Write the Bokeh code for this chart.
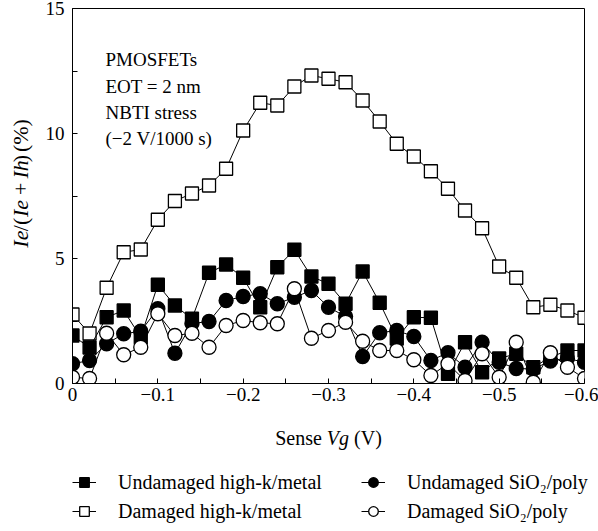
import math
from bokeh.plotting import figure
from bokeh.layouts import column, row
from bokeh.models import (Range1d, FixedTicker, CustomJSTickFormatter, Label,
                          Legend, LegendItem)
from bokeh.embed import file_html
from bokeh.resources import INLINE

# ---------------- data ----------------
vg = [0.0, -0.02, -0.04, -0.06, -0.08, -0.10, -0.12, -0.14, -0.16, -0.18,
      -0.20, -0.22, -0.24, -0.26, -0.28, -0.30, -0.32, -0.34, -0.36, -0.38,
      -0.40, -0.42, -0.44, -0.46, -0.48, -0.50, -0.52, -0.54, -0.56, -0.58,
      -0.60]

damaged_hk = [2.76, 2.0, 3.83, 5.25, 5.36, 6.55, 7.3, 7.6, 7.92, 8.59,
              10.12, 11.23, 11.12, 11.88, 12.32, 12.19, 12.05, 11.32, 10.48, 9.59,
              9.08, 8.49, 7.79, 6.92, 6.21, 4.68, 4.23, 3.05, 3.15, 2.92,
              2.63]

undamaged_hk = [1.92, 1.44, 2.65, 2.92, 1.85, 3.95, 3.12, 2.59, 4.43, 4.76,
                4.23, 3.05, 4.65, 5.35, 4.28, 3.99, 3.19, 4.48, 3.23, 1.8,
                2.65, 2.63, 0.39, 1.65, 0.45, 1.0, 1.19, 0.65, 1.05, 1.32,
                1.32]

undamaged_sio2 = [0.79, 0.92, 1.59, 1.99, 2.09, 2.99, 1.21, 2.4, 2.48, 3.32,
                  3.48, 3.59, 3.19, 3.45, 3.72, 3.05, 2.68, 1.08, 2.03, 2.12,
                  1.88, 0.92, 1.23, 0.65, 1.65, 0.85, 0.6, 0.58, 0.9, 1.0,
                  0.85]

damaged_sio2 = [0.25, 0.2, 2.01, 1.15, 1.45, 2.79, 1.92, 2.01, 1.45, 2.32,
                2.52, 2.43, 2.39, 3.79, 1.81, 2.12, 2.45, 1.69, 1.32, 1.32,
                0.95, 0.32, 0.79, 0.12, 1.19, 0.25, 1.65, 0.05, 1.23, 0.65,
                0.2]

x_major_ticks = [0.0, -0.1, -0.2, -0.3, -0.4, -0.5, -0.6]
x_minor_ticks = [-0.05, -0.15, -0.25, -0.35, -0.45, -0.55]
y_major_ticks = [0, 5, 10, 15]
y_minor_ticks = [2.5, 7.5, 12.5]

series_labels = ["Undamaged high-k/metal", "Damaged high-k/metal",
                 "Undamaged SiO\u2082/poly", "Damaged SiO\u2082/poly"]
inset_lines = ["PMOSFETs", "EOT = 2 nm", "NBTI stress", "(\u22122 V/1000 s)"]
# axis titles as (run, italic) pieces
x_title = [("Sense", False), ("Vg", True), ("(V)", False)]
y_title = [("Ie", True), ("/(", False), ("Ie", True), ("+", False),
           ("Ih", True), (")", False), ("(%)", False)]

# ---------------- layout constants ----------------
W, H = 598, 531
YW = 36            # width of the y-title strip
TOPH = 410         # height of the main row
FL, FR, FT, FB = 72, 584, 8, 383   # frame edges in page px
XMIN, XMAX = 0.0, -0.6
YMIN, YMAX = 0.0, 15.0
FONT = "Liberation Serif"

REG = {' ': 0.25, '/': 0.278, '(': 0.333, ')': 0.333, '+': 0.564, '%': 0.833,
       'S': 0.556, 'e': 0.444, 'n': 0.5, 's': 0.389, 'V': 0.722}
ITA = {'I': 0.333, 'e': 0.444, 'h': 0.5, 'V': 0.611, 'g': 0.5}


def text_w(s, italic, fs):
    tbl = ITA if italic else REG
    return sum(tbl.get(c, 0.5) for c in s) * fs


def blank_fig(w, h):
    f = figure(width=w, height=h, x_range=Range1d(0, w), y_range=Range1d(0, h),
               output_backend="svg", toolbar_location=None,
               x_axis_type=None, y_axis_type=None,
               min_border=0, min_border_left=0, min_border_right=0,
               min_border_top=0, min_border_bottom=0)
    f.outline_line_color = None
    f.xgrid.visible = False
    f.ygrid.visible = False
    f.background_fill_color = "white"
    f.border_fill_color = "white"
    return f


# ---------------- main plot ----------------
p = figure(width=W - YW, height=TOPH, x_range=Range1d(XMIN, XMAX),
           y_range=Range1d(YMIN, YMAX),
           output_backend="svg", toolbar_location=None,
           min_border_left=FL - YW, min_border_right=W - FR,
           min_border_top=FT, min_border_bottom=TOPH - FB)
p.background_fill_color = "white"
p.border_fill_color = "white"
p.outline_line_color = "black"
p.outline_line_width = 1
p.xgrid.visible = False
p.ygrid.visible = False

p.xaxis.ticker = FixedTicker(ticks=x_major_ticks, minor_ticks=x_minor_ticks)
p.yaxis.ticker = FixedTicker(ticks=y_major_ticks, minor_ticks=y_minor_ticks)
p.xaxis.formatter = CustomJSTickFormatter(
    code="return Math.abs(tick) < 1e-9 ? '0' : '\u2212' + Math.abs(tick).toFixed(1);")
for ax in (p.xaxis[0], p.yaxis[0]):
    ax.axis_line_color = "black"
    ax.axis_line_width = 1
    ax.major_tick_line_color = "black"
    ax.minor_tick_line_color = "black"
    ax.major_tick_in = 5
    ax.major_tick_out = 0
    ax.minor_tick_in = 5
    ax.minor_tick_out = 0
    ax.major_label_text_font = FONT
    ax.major_label_text_font_size = "19px"
    ax.major_label_text_color = "black"
p.xaxis.major_label_standoff = 4
p.yaxis.major_label_standoff = 8

specs = [
    ("dhk", damaged_hk, "square", "white", 13),
    ("uhk", undamaged_hk, "square", "black", 13),
    ("usio", undamaged_sio2, "circle", "black", 14),
    ("dsio", damaged_sio2, "circle", "white", 14),
]
for key, ys, marker, fill, size in specs:
    p.line(vg, ys, line_color="black", line_width=1)
    p.scatter(vg, ys, marker=marker, size=size, fill_color=fill,
              line_color="black", line_width=1.3)

for txt, cy in zip(inset_lines, [59, 86, 112, 138]):
    p.add_layout(Label(x=105 - FL, y=FB - cy, x_units="screen", y_units="screen",
                       text=txt, text_font=FONT,
                       text_font_size="19px", text_align="left",
                       text_baseline="middle", text_color="black"))

# ---------------- y title strip (rotated, mixed italic) ----------------
yf = blank_fig(YW, TOPH)
YFS = 22
y_starts = [261.5, 243.5, 228.0, 204.0, 186.0, 168.0, 157.0]   # page px, bottom of each run
for (s, it), sy in zip(y_title, y_starts):
    yf.add_layout(Label(x=20, y=TOPH - sy, text=s, text_font=FONT,
                        text_font_size=f"{YFS}px",
                        text_font_style="italic" if it else "normal",
                        text_align="left", text_baseline="middle",
                        angle=math.pi / 2, text_color="black"))

# ---------------- bottom strip: x title + legend ----------------
BH = H - TOPH
bf = blank_fig(W, BH)
XFS = 20
space = REG[' '] * XFS
total = sum(text_w(s, it, XFS) for s, it in x_title) + space * (len(x_title) - 1)
cur = (FL + FR) / 2 - total / 2
for s, it in x_title:
    bf.add_layout(Label(x=cur, y=H - 437, text=s, text_font=FONT,
                        text_font_size=f"{XFS}px",
                        text_font_style="italic" if it else "normal",
                        text_align="left", text_baseline="middle",
                        text_color="black"))
    cur += text_w(s, it, XFS) + space

# legend sample renderers (hidden; only their styles are used by the legends)
leg_renderers = {}
for key, ys, marker, fill, size in specs:
    ln = bf.line(vg, ys, line_color="black", line_width=1, visible=False)
    sc = bf.scatter(vg, ys, marker=marker, size=size - 1, fill_color=fill,
                    line_color="black", line_width=1.3, visible=False)
    leg_renderers[key] = [ln, sc]

leg_common = dict(orientation="vertical", glyph_width=24, glyph_height=28,
                  label_standoff=22, spacing=1, padding=0, margin=0,
                  border_line_color=None, background_fill_alpha=0,
                  label_text_font=FONT, label_text_font_size="20px",
                  label_text_color="black")
legend1 = Legend(items=[LegendItem(label=series_labels[0], renderers=leg_renderers["uhk"]),
                        LegendItem(label=series_labels[1], renderers=leg_renderers["dhk"])],
                 location=(72, 6), **leg_common)
legend2 = Legend(items=[LegendItem(label=series_labels[2], renderers=leg_renderers["usio"]),
                        LegendItem(label=series_labels[3], renderers=leg_renderers["dsio"])],
                 location=(361, 6), **leg_common)
bf.add_layout(legend1)
bf.add_layout(legend2)

layout = column(row(yf, p, spacing=0), bf, spacing=0)
open("out.html", "w").write(file_html(layout, INLINE))
